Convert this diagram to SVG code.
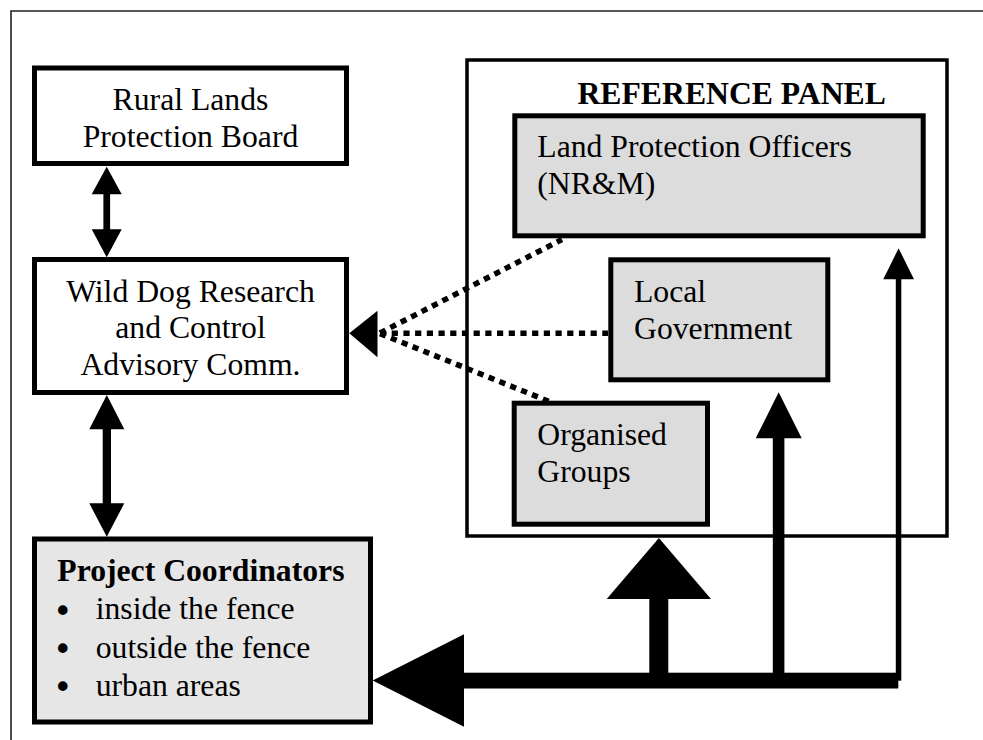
<svg xmlns="http://www.w3.org/2000/svg" width="983" height="740" viewBox="0 0 983 740">
<style>
text{font-family:"Liberation Serif","Times New Roman",serif;font-size:31.7px;fill:#000}
.b{font-weight:bold}
.c{text-anchor:middle}
.bul{font-family:"DejaVu Sans",sans-serif;font-size:33px}
.box{stroke:#000;stroke-width:5}
.w{fill:#fff}
.g{fill:#dcdcdc}
.g2{fill:#e6e6e6}
.dot{fill:none;stroke:#000;stroke-width:5.5;stroke-dasharray:6.2 5.5}
.fill{fill:#000;stroke:none}
</style>
<rect x="0" y="0" width="983" height="740" fill="#fff"/>
<g id="frame">
<path d="M11,740 V11 H983" fill="none" stroke="#222" stroke-width="1.6"/>
</g>
<g id="reference-panel">
<rect x="467" y="60" width="480" height="476" fill="#fff" stroke="#000" stroke-width="3.5"/>
<text class="b c" x="731.7" y="104">REFERENCE PANEL</text>
</g>
<g id="rural-lands">
<rect class="box w" x="34.5" y="68" width="312" height="95.5"/>
<text class="c" x="190.5" y="110">Rural Lands</text>
<text class="c" x="190.5" y="146.7">Protection Board</text>
</g>
<g id="wild-dog">
<rect class="box w" x="34.5" y="259.5" width="312" height="133"/>
<text class="c" x="190.5" y="301.7">Wild Dog Research</text>
<text class="c" x="190.5" y="338.3">and Control</text>
<text class="c" x="190.5" y="375">Advisory Comm.</text>
</g>
<g id="project-coordinators">
<rect class="box g2" x="34.5" y="539" width="336" height="183"/>
<text class="b" x="57.3" y="581">Project Coordinators</text>
<text class="bul" x="53" y="622.5">•</text>
<text x="95.7" y="619.3">inside the fence</text>
<text class="bul" x="53" y="660.9">•</text>
<text x="95.7" y="657.7">outside the fence</text>
<text class="bul" x="53" y="699.2">•</text>
<text x="95.7" y="696">urban areas</text>
</g>
<g id="land-protection-officers">
<rect class="box g" x="514.8" y="115.8" width="408.4" height="120"/>
<text x="537.3" y="157.3">Land Protection Officers</text>
<text x="537.3" y="194">(NR&amp;M)</text>
</g>
<g id="local-government">
<rect class="box g" x="610.8" y="259.8" width="217" height="120"/>
<text x="634" y="301.5">Local</text>
<text x="634" y="338.5">Government</text>
</g>
<g id="organised-groups">
<rect class="box g" x="514.2" y="403.2" width="193.3" height="121"/>
<text x="537.3" y="445">Organised</text>
<text x="537.3" y="481.7">Groups</text>
</g>
<g id="connectors">
<!-- Rural <-> Wild Dog -->
<rect class="fill" x="103.4" y="193" width="6.7" height="38"/>
<polygon class="fill" points="106.7,166.7 121.7,194.3 91.7,194.3"/>
<polygon class="fill" points="106.7,257.3 121.7,229.3 91.7,229.3"/>
<!-- Wild Dog <-> Project Coordinators -->
<rect class="fill" x="102.7" y="428" width="8.3" height="77"/>
<polygon class="fill" points="106.8,395 124.3,429.3 89.3,429.3"/>
<polygon class="fill" points="106.8,536.7 124.3,503.3 89.3,503.3"/>
<!-- dotted links to Wild Dog -->
<line class="dot" x1="380" y1="333" x2="562" y2="239.5"/>
<line class="dot" x1="380" y1="333.3" x2="608" y2="333.3"/>
<line class="dot" x1="380" y1="333.6" x2="553" y2="403"/>
<polygon class="fill" points="349.3,333.3 377.5,310.7 377.5,357.3"/>
<!-- bottom bus to Project Coordinators -->
<rect class="fill" x="462" y="672.7" width="436.3" height="15.8"/>
<polygon class="fill" points="372.7,680.5 464,634.3 464,726.7"/>
<!-- up to panel -->
<rect class="fill" x="649.3" y="597" width="19" height="78"/>
<polygon class="fill" points="658.9,538 711,599 606.7,599"/>
<!-- up to Local Government -->
<rect class="fill" x="772.8" y="436" width="11.6" height="239"/>
<polygon class="fill" points="778.7,392.3 801.7,438.3 755.7,438.3"/>
<!-- up to Land Protection Officers -->
<rect class="fill" x="895.8" y="277" width="5.5" height="403.7"/>
<polygon class="fill" points="898.6,248.3 914,279.3 883.3,279.3"/>
</g>
</svg>
